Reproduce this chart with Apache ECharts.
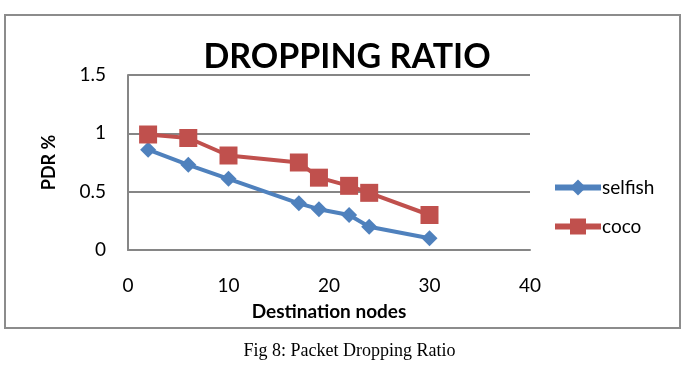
<!DOCTYPE html>
<html>
<head>
<meta charset="utf-8">
<script src="https://cdn.jsdelivr.net/npm/echarts@6/dist/echarts.min.js"></script>
<style>
  html, body { margin: 0; padding: 0; background: #fff; }
  #chart { width: 699px; height: 377px; }
</style>
</head>
<body>
<div id="chart"></div>
<script>
// values
var nodes = [2, 6, 10, 17, 19, 22, 24, 30];
var selfish = [0.86, 0.73, 0.61, 0.40, 0.35, 0.30, 0.20, 0.10];
var coco = [0.99, 0.96, 0.81, 0.75, 0.62, 0.55, 0.49, 0.30];
var xTicks = [0, 10, 20, 30, 40];
var yTicks = [0, 0.5, 1, 1.5];

function pairs(xs, ys) {
  return xs.map(function (x, i) { return [x, ys[i]]; });
}

var font = 'Lato, "Open Sans", sans-serif';
var myChart = echarts.init(document.getElementById('chart'));

var option = {
  animation: false,
  backgroundColor: '#fff',
  textStyle: { fontFamily: font },
  title: {
    text: 'DROPPING RATIO',
    left: 342,
    top: 35,
    textAlign: 'center',
    textStyle: { fontFamily: font, fontSize: 34, fontWeight: 'bold', color: '#000' }
  },
  legend: {
    orient: 'vertical',
    left: 547,
    top: 173,
    itemGap: 20,
    itemWidth: 46,
    itemHeight: 20,
    lineStyle: { width: 6 },
    textStyle: { fontFamily: font, fontSize: 19, color: '#000', padding: [0, 0, 0, -4] },
    data: ['selfish', 'coco']
  },
  grid: { left: 128, right: 169, top: 75, bottom: 127 },
  xAxis: {
    type: 'value',
    min: xTicks[0],
    max: xTicks[xTicks.length - 1],
    interval: 10,
    name: 'Destination nodes',
    nameLocation: 'middle',
    nameGap: 52,
    nameTextStyle: { fontFamily: font, fontSize: 19, fontWeight: 'bold', color: '#000' },
    axisLine: { lineStyle: { color: '#868686', width: 2 } },
    axisTick: { show: false },
    splitLine: { show: false },
    axisLabel: { margin: 26, fontSize: 19, color: '#000', fontFamily: font }
  },
  yAxis: {
    type: 'value',
    min: yTicks[0],
    max: yTicks[yTicks.length - 1],
    interval: 0.5,
    name: 'PDR %',
    nameLocation: 'middle',
    nameGap: 70,
    nameTextStyle: { fontFamily: font, fontSize: 18, fontWeight: 'bold', color: '#000' },
    axisLine: { show: true, lineStyle: { color: '#868686', width: 2 } },
    axisTick: { show: false },
    splitLine: { lineStyle: { color: '#868686', width: 2 } },
    axisLabel: { margin: 22, fontSize: 19, color: '#000', fontFamily: font }
  },
  graphic: [
    {
      type: 'rect',
      shape: { x: 5, y: 15, width: 675, height: 313 },
      style: { fill: 'none', stroke: '#8c8c8c', lineWidth: 2 },
      silent: true
    },
    {
      type: 'text',
      left: 'center',
      top: 342,
      style: {
        text: 'Fig 8: Packet Dropping Ratio',
        font: '18px "Liberation Serif", "DejaVu Serif", serif',
        fill: '#000'
      }
    }
  ],
  series: [
    {
      name: 'selfish',
      type: 'line',
      data: pairs(nodes, selfish),
      symbol: 'diamond',
      symbolSize: 16,
      color: '#4F81BD',
      lineStyle: { width: 4 }
    },
    {
      name: 'coco',
      type: 'line',
      data: pairs(nodes, coco),
      symbol: 'rect',
      symbolSize: 18,
      color: '#C0504D',
      lineStyle: { width: 4 }
    }
  ]
};
myChart.setOption(option);
</script>
</body>
</html>
